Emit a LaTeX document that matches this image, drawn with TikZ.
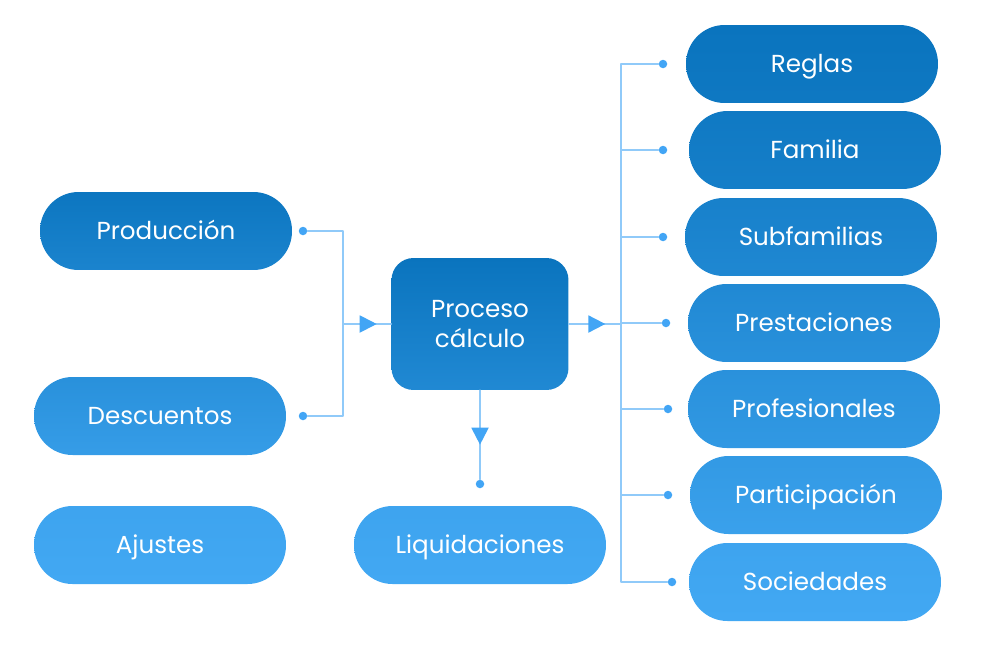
\documentclass[tikz,border=0pt]{standalone}
\usepackage{fontspec}
\setmainfont{Poppins}
\usetikzlibrary{arrows.meta,decorations.markings}

\definecolor{blueDark}{HTML}{0A74BE}
\definecolor{blueLight}{HTML}{42A8F3}
\definecolor{lineBlue}{HTML}{90CAF9}
\definecolor{dotBlue}{HTML}{42A5F5}

\tikzset{
	pill/.style={rounded corners=0.77cm, minimum width=5.04cm, minimum height=1.56cm,
		inner sep=0pt, text height=10.2pt, text depth=0pt,
		text=white, font=\fontsize{14}{17}\selectfont},
	conn/.style={draw=lineBlue, line width=1.1pt},
	dotnode/.style={circle, fill=dotBlue, inner sep=0pt, minimum size=0.17cm},
	midarrow/.style={postaction={decorate}, decoration={markings,
		mark=at position #1 with {\arrow{Triangle[length=0.34cm, width=0.34cm, color=dotBlue]}}}},
}

\begin{document}
\begin{tikzpicture}[x=0.02cm, y=-0.02cm, line cap=round, line join=round]
	
	% ----------------------------
	% 0) Canvas
	% ----------------------------
	\useasboundingbox (0,0) rectangle (986,649);
	
	% ----------------------------
	% 1) Central process box
	% ----------------------------
	\node[rounded corners=0.44cm, minimum width=3.54cm, minimum height=2.64cm,
		align=center, text=white, font=\fontsize{14}{17}\selectfont,
		top color=blueDark, bottom color=blueLight!40!blueDark] (proc) at (480,324)
		{Proceso\\cálculo};
	
	% ----------------------------
	% 2) Inputs (left column)
	% ----------------------------
	\node[pill, top color=blueLight!4!blueDark, bottom color=blueLight!30!blueDark] (prod) at (166,231) {Producción};
	\node[pill, top color=blueLight!55!blueDark, bottom color=blueLight!78!blueDark] (desc) at (160,416) {Descuentos};
	\node[pill, top color=blueLight!92!blueDark, bottom color=blueLight] (ajus) at (160,545) {Ajustes};
	
	\node[dotnode] (dprod) at (303,231) {};
	\node[dotnode] (ddesc) at (303,416) {};
	\coordinate (jL) at (343,324);
	
	\draw[conn] (dprod) -| (jL);
	\draw[conn] (ddesc) -| (jL);
	\draw[conn, midarrow=0.7] (jL) -- (proc.west);
	
	% ----------------------------
	% 3) Output (below)
	% ----------------------------
	\node[pill, top color=blueLight!92!blueDark, bottom color=blueLight] (liq) at (480,545) {Liquidaciones};
	\node[dotnode] (dliq) at (480,484) {};
	\draw[conn, midarrow=0.61] (proc.south) -- (dliq);
	
	% ----------------------------
	% 4) Parameters (right column)
	% ----------------------------
	\coordinate (jR) at (621,324);
	\draw[conn, midarrow=0.7] (proc.east) -- (jR);
	
	\foreach \nm/\cx/\cy/\dx/\pt/\pb/\txt in {
		reglas/812/64/663/0/8/Reglas,
		familia/815/150/663/10/20/Familia,
		subfam/811/237/663/24/38/Subfamilias,
		prest/814/323/666/40/55/Prestaciones,
		profes/814/409/668/56/70/Profesionales,
		partic/816/495/668/72/86/Participación,
		socied/815/582/672/92/100/Sociedades
	}{
		\node[pill, top color=blueLight!\pt!blueDark, bottom color=blueLight!\pb!blueDark] (\nm) at (\cx,\cy) {\txt};
		\node[dotnode] (d\nm) at (\dx,\cy) {};
		\draw[conn] (jR) |- (d\nm);
	}
	
\end{tikzpicture}
\end{document}
